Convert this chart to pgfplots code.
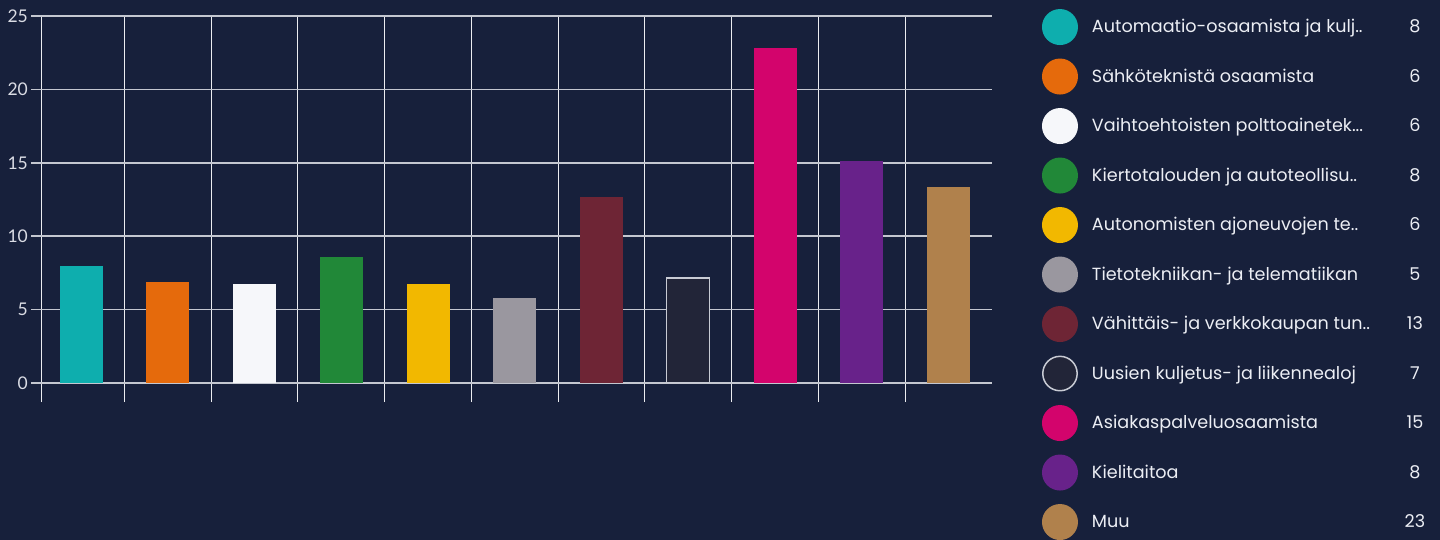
\documentclass[border=0pt]{standalone}
\usepackage{pgfplots}
\pgfplotsset{compat=1.18}
\usepackage{fontspec}
\setmainfont{Poppins}
\newfontfamily\tickfont{Lato}
\definecolor{bg}{RGB}{23,32,59}
\definecolor{gridh}{RGB}{196,199,208}
\definecolor{gridv}{RGB}{235,236,240}
\definecolor{legtext}{RGB}{236,238,244}
\definecolor{tickc}{RGB}{218,220,228}
\definecolor{c1}{RGB}{14,174,174}
\definecolor{c2}{RGB}{229,106,12}
\definecolor{c3}{RGB}{255,255,255}
\definecolor{c3b}{RGB}{246,247,250}
\definecolor{c4}{RGB}{33,136,56}
\definecolor{c5}{RGB}{242,184,0}
\definecolor{c6}{RGB}{154,151,159}
\definecolor{c7}{RGB}{110,37,53}
\definecolor{c8}{RGB}{34,37,56}
\definecolor{c8b}{RGB}{200,203,212}
\definecolor{c9}{RGB}{211,4,108}
\definecolor{c10}{RGB}{104,34,138}
\definecolor{c11}{RGB}{176,129,76}
\begin{document}
\begin{tikzpicture}
\fill[bg] (0,0) rectangle (1440pt,540pt);
\path[use as bounding box] (0,0) rectangle (1440pt,540pt);
\begin{axis}[
  at={(42pt,157pt)}, anchor=south west,
  scale only axis, width=950pt, height=367pt,
  xmin=-0.45, xmax=10.5, ymin=0, ymax=25,
  axis line style={draw=none},
  xtick={-0.45,0.5,1.5,2.5,3.5,4.5,5.5,6.5,7.5,8.5,9.5},
  xticklabels={},
  ytick={0,5,10,15,20,25},
  minor ytick={0,5,10,15,20,25},
  tick align=outside, xtick pos=lower, ytick pos=left,
  major tick length=19pt, minor tick length=11pt,
  x tick style={gridv, line width=1pt},
  major y tick style={draw=none},
  minor y tick style={gridh, line width=1.5pt},
  xmajorgrids, ymajorgrids,
  x grid style={gridv, line width=1pt},
  y grid style={gridh, line width=1.5pt},
  extra y ticks={0}, extra y tick labels={},
  extra y tick style={grid style={white, line width=2.5pt}},
  yticklabel style={font=\tickfont\fontsize{17.5}{17.5}\selectfont, text=tickc, inner sep=0pt, xshift=5pt},
  /pgf/number format/assume math mode=true,
  bar width=43pt,
  legend image code/.code={
    \path[draw=none, fill=none] (0pt,-18pt) rectangle (50pt,18pt);
    \fill[#1, draw=none] (18pt,0pt) circle (18pt);
  },
  legend cell align=left,
  legend style={at={(1.0526,1.019)}, anchor=north west, draw=none, fill=none,
    inner sep=0pt, outer sep=0pt, row sep=13.5pt,
    nodes={inner sep=0pt, text=legtext, font=\fontsize{17.6}{17.6}\selectfont}},
]
\addplot[ybar, bar shift=0pt, fill=c1, draw=none] coordinates {(0,8.0)};
\addlegendentry{\makebox[300pt][l]{Automaatio-osaamista ja kulj..}\makebox[46pt][c]{8}}
\addplot[ybar, bar shift=0pt, fill=c2, draw=none] coordinates {(1,6.9)};
\addlegendentry{\makebox[300pt][l]{Sähköteknistä osaamista}\makebox[46pt][c]{6}}
\addplot[ybar, bar shift=0pt, fill=c3b, draw=none] coordinates {(2,6.75)};
\addlegendentry{\makebox[300pt][l]{Vaihtoehtoisten polttoainetek...}\makebox[46pt][c]{6}}
\addplot[ybar, bar shift=0pt, fill=c4, draw=none] coordinates {(3,8.6)};
\addlegendentry{\makebox[300pt][l]{Kiertotalouden ja autoteollisu..}\makebox[46pt][c]{8}}
\addplot[ybar, bar shift=0pt, fill=c5, draw=none] coordinates {(4,6.75)};
\addlegendentry{\makebox[300pt][l]{Autonomisten ajoneuvojen te..}\makebox[46pt][c]{6}}
\addplot[ybar, bar shift=0pt, fill=c6, draw=none] coordinates {(5,5.8)};
\addlegendentry{\makebox[300pt][l]{Tietotekniikan- ja telematiikan}\makebox[46pt][c]{5}}
\addplot[ybar, bar shift=0pt, fill=c7, draw=none] coordinates {(6,12.7)};
\addlegendentry{\makebox[300pt][l]{Vähittäis- ja verkkokaupan tun..}\makebox[46pt][c]{13}}
\addplot[ybar, bar shift=0pt, fill=c8, draw=c8b, line width=1.2pt,
  legend image code/.code={
    \path[draw=none, fill=none] (0pt,-18pt) rectangle (50pt,18pt);
    \filldraw[fill=c8, draw=c8b, line width=1.5pt] (18pt,0pt) circle (17.2pt);
  }] coordinates {(7,7.15)};
\addlegendentry{\makebox[300pt][l]{Uusien kuljetus- ja liikennealoj}\makebox[46pt][c]{7}}
\addplot[ybar, bar shift=0pt, fill=c9, draw=none] coordinates {(8,22.8)};
\addlegendentry{\makebox[300pt][l]{Asiakaspalveluosaamista}\makebox[46pt][c]{15}}
\addplot[ybar, bar shift=0pt, fill=c10, draw=none] coordinates {(9,15.15)};
\addlegendentry{\makebox[300pt][l]{Kielitaitoa}\makebox[46pt][c]{8}}
\addplot[ybar, bar shift=0pt, fill=c11, draw=none] coordinates {(10,13.35)};
\addlegendentry{\makebox[300pt][l]{Muu}\makebox[46pt][c]{23}}
\end{axis}
\end{tikzpicture}
\end{document}
